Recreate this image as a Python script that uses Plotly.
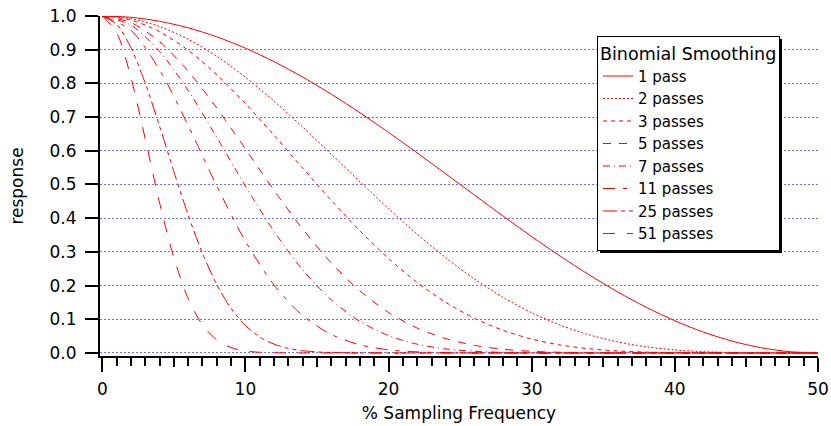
import plotly.graph_objects as go

# % sampling frequency grids
x_coarse = [0, 2, 4, 6, 8, 10, 12, 14, 16, 18, 20, 22, 24, 26, 28, 30,
            32, 34, 36, 38, 40, 42, 44, 46, 48, 50]
x_fine = [0, 1, 2, 3, 4, 5, 6, 7, 8, 9, 10, 11, 12, 13, 14, 15, 16, 17, 18,
          19, 20, 25, 30, 35, 40, 45, 50]

pass1 = [1.0, 0.9961, 0.9843, 0.9649, 0.9382, 0.9045, 0.8645, 0.8187, 0.7679,
         0.7129, 0.6545, 0.5937, 0.5314, 0.4686, 0.4063, 0.3455, 0.2871, 0.2321,
         0.1813, 0.1355, 0.0955, 0.0618, 0.0351, 0.0157, 0.0039, 0.0]
pass2 = [1.0, 0.9921, 0.9688, 0.9310, 0.8801, 0.8181, 0.7473, 0.6703, 0.5897,
         0.5082, 0.4284, 0.3525, 0.2824, 0.2196, 0.1651, 0.1194, 0.0824, 0.0539,
         0.0329, 0.0184, 0.0091, 0.0038, 0.0012, 0.0003, 0.0000, 0.0]
pass3 = [1.0, 0.9882, 0.9536, 0.8983, 0.8257, 0.7400, 0.6461, 0.5488, 0.4528,
         0.3623, 0.2804, 0.2093, 0.1501, 0.1029, 0.0671, 0.0412, 0.0237, 0.0125,
         0.0060, 0.0025, 0.0009, 0.0002, 0.0, 0.0, 0.0, 0.0]
pass5 = [1.0, 0.9804, 0.9239, 0.8364, 0.7267, 0.6054, 0.4828, 0.3678, 0.2670,
         0.1841, 0.1201, 0.0738, 0.0424, 0.0226, 0.0111, 0.0049, 0.0020, 0.0007,
         0.0002, 0.0001, 0.0, 0.0, 0.0, 0.0, 0.0, 0.0]
pass7 = [1.0, 0.9727, 0.8951, 0.7787, 0.6396, 0.4953, 0.3608, 0.2466, 0.1575,
         0.0936, 0.0515, 0.0260, 0.0120, 0.0050, 0.0018, 0.0006, 0.0002, 0.0,
         0.0, 0.0, 0.0, 0.0, 0.0, 0.0, 0.0, 0.0]
pass11 = [1.0, 0.9575, 0.8402, 0.6749, 0.4955, 0.3316, 0.2015, 0.1108, 0.0548,
          0.0242, 0.0094, 0.0032, 0.0010, 0.0002, 0.0, 0.0, 0.0, 0.0,
          0.0, 0.0, 0.0, 0.0, 0.0, 0.0, 0.0, 0.0]
pass25 = [1.0, 0.9756, 0.9060, 0.8007, 0.6731, 0.5383, 0.4092, 0.2956, 0.2027,
          0.1319, 0.0814, 0.0475, 0.0262, 0.0137, 0.0067, 0.0031, 0.0014, 0.0006,
          0.0002, 0.0001, 0.0, 0.0, 0.0, 0.0, 0.0, 0.0, 0.0]
pass51 = [1.0, 0.9509, 0.8176, 0.6353, 0.4459, 0.2827, 0.1616, 0.0832, 0.0386,
          0.0160, 0.0060, 0.0020, 0.0006, 0.0002, 0.0, 0.0, 0.0, 0.0,
          0.0, 0.0, 0.0, 0.0, 0.0, 0.0, 0.0, 0.0, 0.0]

series = [
    ("1 pass", x_coarse, pass1, "solid"),
    ("2 passes", x_coarse, pass2, "2px,2px"),
    ("3 passes", x_coarse, pass3, "4px,4px"),
    ("5 passes", x_coarse, pass5, "8px,8px"),
    ("7 passes", x_coarse, pass7, "7px,4px,1px,4px"),
    ("11 passes", x_coarse, pass11, "12px,8px,4px,8px"),
    ("25 passes", x_fine, pass25, "14px,4px,4px,4px,4px,4px"),
    ("51 passes", x_fine, pass51, "12px,12px"),
]

FONT = "DejaVu Sans"
fig = go.Figure()
for name, xs, ys, dash in series:
    fig.add_trace(go.Scatter(x=xs, y=ys, name=name, mode="lines",
                             line=dict(color="#ff0000", width=1, dash=dash,
                                       shape="spline", smoothing=0.8)))

# mid-length ticks at 5, 15, ... on an overlay axis
fig.add_trace(go.Scatter(x=[0], y=[None], xaxis="x2", showlegend=False,
                         hoverinfo="skip"))

W, H = 831, 426
L, R, T, B = 100, 13, 16, 70
pw, ph = W - L - R, H - T - B


def px_x(p):  # window pixel -> paper x
    return (p - L) / pw


def px_y(p):  # window pixel -> paper y
    return (H - B - p) / ph


fig.update_layout(
    width=W, height=H,
    margin=dict(l=L, r=R, t=T, b=B, autoexpand=False),
    paper_bgcolor="white", plot_bgcolor="white",
    font=dict(family=FONT, size=17, color="black"),
    showlegend=True,
    legend=dict(x=px_x(597), y=px_y(36), xanchor="left", yanchor="top",
                bgcolor="white", bordercolor="black", borderwidth=1,
                font=dict(family=FONT, size=15, color="black"),
                title=dict(text="Binomial Smoothing",
                           font=dict(family=FONT, size=17.5, color="black"))),
    xaxis=dict(range=[-0.16, 50], showline=True, linecolor="black", linewidth=2,
               automargin=False, ticklabeloverflow="allow",
               ticks="outside", ticklen=14, tickwidth=2, tickcolor="black",
               tick0=0, dtick=10, showgrid=False, zeroline=False,
               minor=dict(dtick=1, ticklen=8, tickwidth=2, tickcolor="black",
                          ticks="outside", showgrid=False),
               tickfont=dict(size=17), ticklabelstandoff=3,
               title=dict(text="% Sampling Frequency", font=dict(size=17),
                          standoff=9)),
    xaxis2=dict(range=[-0.16, 50], overlaying="x", anchor="y", side="bottom",
                automargin=False,
                ticks="outside", ticklen=10, tickwidth=2, tickcolor="black",
                tickvals=[5, 15, 25, 35, 45], showticklabels=False,
                showgrid=False, zeroline=False, showline=False),
    yaxis=dict(range=[-0.009, 1.0], showline=True, linecolor="black", linewidth=2,
               automargin=False, ticklabeloverflow="allow",
               ticks="outside", ticklen=13, tickwidth=2, tickcolor="black",
               tick0=0, dtick=0.1, tickformat=".1f",
               showgrid=True, gridcolor="rgb(110,110,255)", gridwidth=1,
               griddash="2px,2px", zeroline=False,
               tickfont=dict(size=17), ticklabelstandoff=5,
               title=dict(text="response", font=dict(size=17), standoff=22)),
    shapes=[dict(type="rect", xref="paper", yref="paper",
                 x0=px_x(600), x1=px_x(782), y0=px_y(253), y1=px_y(39),
                 fillcolor="black", line=dict(width=0), layer="above")],
)

fig.write_html("out.html",
               config={"displayModeBar": False},
               post_script="document.body.style.margin='0px';")
